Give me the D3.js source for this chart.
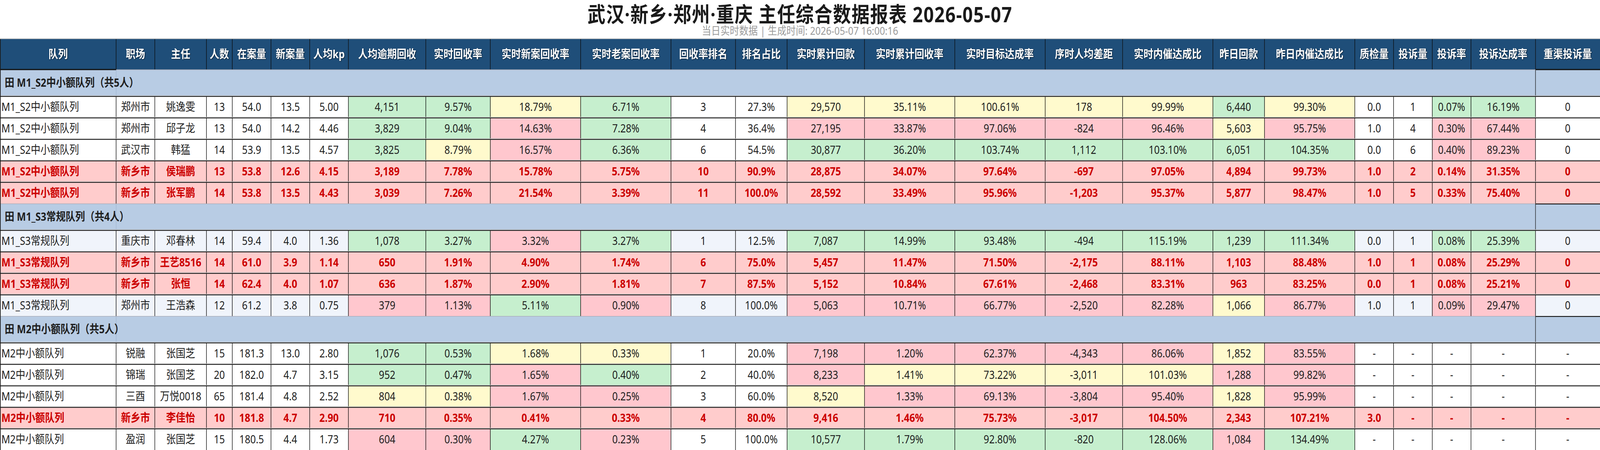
<!DOCTYPE html>
<html>
<head>
<meta charset="utf-8">
<script src="https://cdn.jsdelivr.net/npm/d3@7"></script>
<style>
  html, body { margin: 0; padding: 0; background: #fff; overflow: hidden; }
  svg { display: block; width: 100vw; height: 100vh; font-family: "Noto Sans", "Noto Sans CJK SC", sans-serif; }
</style>
</head>
<body>
<svg id="report"></svg>
<script>
const title = "武汉·新乡·郑州·重庆 主任综合数据报表 2026-05-07";
const subtitle = "当日实时数据 | 生成时间: 2026-05-07 16:00:16";

const columns = ["队列", "职场", "主任", "人数", "在案量", "新案量", "人均kp", "人均逾期回收",
    "实时回收率", "实时新案回收率", "实时老案回收率", "回收率排名", "排名占比", "实时累计回款",
    "实时累计回收率", "实时目标达成率", "序时人均差距", "实时内催达成比", "昨日回款",
    "昨日内催达成比", "质检量", "投诉量", "投诉率", "投诉达成率", "重渠投诉量"];

const groupNames = ["M1_S2中小额队列", "M1_S3常规队列", "M2中小额队列"];
const groupSizes = [5, 4, 5];

const sites = ["郑州市", "郑州市", "武汉市", "新乡市", "新乡市", "重庆市", "新乡市", "新乡市", "郑州市",
    "锐融", "锦瑞", "三酉", "新乡市", "盈润"];
const managers = ["姚逸雯", "邱子龙", "韩猛", "侯瑞鹏", "张军鹏", "邓春林", "王艺8516", "张恒", "王浩森",
    "张国芝", "张国芝", "万悦0018", "李佳怡", "张国芝"];
const headcount = [13, 13, 14, 13, 14, 14, 14, 14, 12, 15, 20, 65, 10, 15];
const activeCases = [54.0, 54.0, 53.9, 53.8, 53.8, 59.4, 61.0, 62.4, 61.2, 181.3, 182.0, 181.4, 181.8, 180.5];
const newCases = [13.5, 14.2, 13.5, 12.6, 13.5, 4.0, 3.9, 4.0, 3.8, 13.0, 4.7, 4.8, 4.7, 4.4];
const kpPerHead = [5.00, 4.46, 4.57, 4.15, 4.43, 1.36, 1.14, 1.07, 0.75, 2.80, 3.15, 2.52, 2.90, 1.73];
const overduePerHead = [4151, 3829, 3825, 3189, 3039, 1078, 650, 636, 379, 1076, 952, 804, 710, 604];
const recoveryRate = [9.57, 9.04, 8.79, 7.78, 7.26, 3.27, 1.91, 1.87, 1.13, 0.53, 0.47, 0.38, 0.35, 0.30];
const newCaseRate = [18.79, 14.63, 16.57, 15.78, 21.54, 3.32, 4.90, 2.90, 5.11, 1.68, 1.65, 1.67, 0.41, 4.27];
const oldCaseRate = [6.71, 7.28, 6.36, 5.75, 3.39, 3.27, 1.74, 1.81, 0.90, 0.33, 0.40, 0.25, 0.33, 0.23];
const rateRank = [3, 4, 6, 10, 11, 1, 6, 7, 8, 1, 2, 3, 4, 5];
const rankShare = [27.3, 36.4, 54.5, 90.9, 100.0, 12.5, 75.0, 87.5, 100.0, 20.0, 40.0, 60.0, 80.0, 100.0];
const cumPayback = [29570, 27195, 30877, 28875, 28592, 7087, 5457, 5152, 5063, 7198, 8233, 8520, 9416, 10577];
const cumRate = [35.11, 33.87, 36.20, 34.07, 33.49, 14.99, 11.47, 10.84, 10.71, 1.20, 1.41, 1.33, 1.46, 1.79];
const targetRate = [100.61, 97.06, 103.74, 97.64, 95.96, 93.48, 71.50, 67.61, 66.77, 62.37, 73.22, 69.13, 75.73, 92.80];
const paceGap = [178, -824, 1112, -697, -1203, -494, -2175, -2468, -2520, -4343, -3011, -3804, -3017, -820];
const internalRatio = [99.99, 96.46, 103.10, 97.05, 95.37, 115.19, 88.11, 83.31, 82.28, 86.06, 101.03, 95.40, 104.50, 128.06];
const ydPayback = [6440, 5603, 6051, 4894, 5877, 1239, 1103, 963, 1066, 1852, 1288, 1828, 2343, 1084];
const ydInternalRatio = [99.30, 95.75, 104.35, 99.73, 98.47, 111.34, 88.48, 83.25, 86.77, 83.55, 99.82, 95.99, 107.21, 134.49];
const qcCount = [0.0, 1.0, 0.0, 1.0, 1.0, 0.0, 1.0, 0.0, 1.0, null, null, null, 3.0, null];
const complaints = [1, 4, 6, 2, 5, 1, 1, 1, 1, null, null, null, null, null];
const complaintRate = [0.07, 0.30, 0.40, 0.14, 0.33, 0.08, 0.08, 0.08, 0.09, null, null, null, null, null];
const complaintTarget = [16.19, 67.44, 89.23, 31.35, 75.40, 25.39, 25.29, 25.21, 29.47, null, null, null, null, null];
const reChannelComplaints = [0, 0, 0, 0, 0, 0, 0, 0, 0, null, null, null, null, null];

// g = 达标, y = 接近, r = 未达标, . = 无标记 (one char per column)
const cellLevels = [
    ".......ggyg..yyyyygy..gg.",
    ".......ggrg..rrrrryr..rr.",
    ".......gyrg..ggggggg..rr.",
    ".........................",
    ".........................",
    ".......ggrg..ggggggg..gg.",
    ".........................",
    ".........................",
    ".......rrgr..rrrrryr..rr.",
    ".......ggyy..rrrrryr.....",
    ".......ggrg..ryyyyrr.....",
    ".......yyrr..yrrrryr.....",
    ".........................",
    ".......rrgr..gggggrg....."
];
const highlightSite = "新乡市";
const shadedRows = [5, 8];

// ---- layout ----
const W = 4800, H = 1152;
const colUnits = [9, 3, 4, 2, 3, 3, 3, 6, 5, 7, 7, 5, 4, 6, 7, 7, 6, 7, 4, 7, 3, 3, 3, 5, 5];
const tableTop = 100, headerH = 78, groupH = 68, rowH = 55;
const cellFont = "29px";

const loc = d3.formatLocale({ decimal: ".", thousands: ",", grouping: [3], currency: ["", ""], minus: "-" });
const fInt = loc.format("d"), fComma = loc.format(",d"), f1 = loc.format(".1f"), f2 = loc.format(".2f");
const pct2 = v => f2(v) + "%", pct1 = v => f1(v) + "%";

const rowGroup = groupSizes.flatMap((n, g) => d3.range(n).map(() => g));
const queueCol = rowGroup.map(g => groupNames[g]);

const columnData = [
    [queueCol, String], [sites, String], [managers, String], [headcount, fInt],
    [activeCases, f1], [newCases, f1], [kpPerHead, f2], [overduePerHead, fComma],
    [recoveryRate, pct2], [newCaseRate, pct2], [oldCaseRate, pct2], [rateRank, fInt],
    [rankShare, pct1], [cumPayback, fComma], [cumRate, pct2], [targetRate, pct2],
    [paceGap, fComma], [internalRatio, pct2], [ydPayback, fComma], [ydInternalRatio, pct2],
    [qcCount, f1], [complaints, fInt], [complaintRate, pct2], [complaintTarget, pct2],
    [reChannelComplaints, fInt]
];

const edges = [0, ...d3.cumsum(colUnits)];
const x = d3.scaleLinear().domain([0, d3.sum(colUnits)]).range([0, W]);
const colX0 = i => x(edges[i]);
const colX1 = i => x(edges[i + 1]);

// row layout: group bands and data rows stacked under the header
const bands = [];
let yCursor = tableTop + headerH, r = 0;
groupSizes.forEach((n, g) => {
    bands.push({ type: "group", g, y0: yCursor, y1: yCursor + groupH });
    yCursor += groupH;
    for (let k = 0; k < n; k++, r++) {
        bands.push({ type: "data", i: r, y0: yCursor, y1: yCursor + rowH });
        yCursor += rowH;
    }
});

const levelFill = { g: "#C6EFCE", y: "#FFFACD", r: "#FFC7CE" };
const headerFill = "#1F4E79";
const groupFill = "#B8CCE4";
const hlFill = "#FFCCCC";
const hlText = "#CC0000";
const shadeFill = "#F0F4FB";

const svg = d3.select("#report")
    .attr("viewBox", `0 0 ${W} ${H}`)
    .attr("preserveAspectRatio", "none");
svg.append("rect").attr("width", W).attr("height", H).attr("fill", "#fff");

svg.append("text")
    .attr("x", W / 2).attr("y", 57)
    .attr("text-anchor", "middle")
    .style("font-size", "54px").style("font-weight", "bold").style("fill", "#1a1a1a")
    .style("letter-spacing", "1.8px")
    .text(title);

svg.append("text")
    .attr("x", W / 2).attr("y", 79).attr("dy", "0.35em")
    .attr("text-anchor", "middle")
    .style("font-size", "28px").style("fill", "#9a9a9a")
    .text(subtitle);

svg.append("line")
    .attr("x1", 0).attr("x2", W).attr("y1", tableTop - 1).attr("y2", tableTop - 1)
    .style("stroke", "#c8c8c8").style("stroke-width", 2);

// header
const header = svg.append("g");
header.selectAll("rect").data(columns).enter().append("rect")
    .attr("x", (d, i) => colX0(i)).attr("y", tableTop)
    .attr("width", (d, i) => colX1(i) - colX0(i)).attr("height", headerH)
    .attr("fill", headerFill);
header.selectAll("text").data(columns).enter().append("text")
    .attr("x", (d, i) => (colX0(i) + colX1(i)) / 2)
    .attr("y", tableTop + headerH / 2).attr("dy", "0.35em")
    .attr("text-anchor", "middle")
    .style("font-size", "29px").style("font-weight", "bold").style("fill", "#fff")
    .style("filter", "drop-shadow(1px 1px 1px rgba(0,0,0,0.7))")
    .text(d => d);
header.selectAll("line").data(d3.range(1, columns.length)).enter().append("line")
    .attr("x1", i => colX0(i)).attr("x2", i => colX0(i))
    .attr("y1", tableTop).attr("y2", tableTop + headerH)
    .style("stroke", "#0a0a0a").style("stroke-width", 1.5);

// group rows
const groupBands = bands.filter(b => b.type === "group");
const gRows = svg.selectAll(".grp").data(groupBands).enter().append("g").attr("class", "grp");
gRows.append("rect")
    .attr("x", 0).attr("y", b => b.y0).attr("width", W).attr("height", groupH)
    .attr("fill", groupFill);
gRows.append("line")
    .attr("x1", colX1(0)).attr("x2", colX1(0)).attr("y1", b => b.y0).attr("y2", b => b.y1)
    .style("stroke", "#9db1ca").style("stroke-width", 1);
gRows.append("line")
    .attr("x1", colX0(24)).attr("x2", colX0(24)).attr("y1", b => b.y0).attr("y2", b => b.y1)
    .style("stroke", "#1a1a1a").style("stroke-width", 1.5);
gRows.append("line")
    .attr("x1", 0).attr("x2", W).attr("y1", b => b.y0 + 0.5).attr("y2", b => b.y0 + 0.5)
    .style("stroke", "#a9a9b5").style("stroke-width", 1.5);
gRows.append("text")
    .attr("x", 14).attr("y", b => (b.y0 + b.y1) / 2).attr("dy", "0.35em")
    .style("font-size", cellFont).style("font-weight", "bold").style("fill", "#1e1e1e")
    .text(b => `田 ${groupNames[b.g]}（共${groupSizes[b.g]}人）`);

// sticky first / last column borders
[0, 24].forEach(c => {
    svg.append("line")
        .attr("x1", colX0(c)).attr("x2", colX1(c)).attr("y1", tableTop + headerH).attr("y2", tableTop + headerH)
        .style("stroke", "#111").style("stroke-width", 3);
});
groupBands.slice(1).forEach(b => {
    svg.append("line")
        .attr("x1", colX0(24)).attr("x2", W).attr("y1", b.y0 + 1).attr("y2", b.y0 + 1)
        .style("stroke", "#111").style("stroke-width", 2.5);
});

// data rows
const dataBands = bands.filter(b => b.type === "data");
const cells = dataBands.flatMap(b => columns.map((c, j) => {
    const i = b.i;
    const [vals, fmt] = columnData[j];
    const v = vals[i];
    const hl = sites[i] === highlightSite;
    const lvl = cellLevels[i][j];
    let fill = shadedRows.includes(i) ? shadeFill : "#fff";
    if (lvl !== ".") fill = levelFill[lvl];
    if (hl) fill = hlFill;
    return {
        j, y0: b.y0, y1: b.y1, hl, fill,
        text: v === null || v === undefined ? "-" : fmt(v)
    };
}));

const cellG = svg.selectAll(".cell").data(cells).enter().append("g").attr("class", "cell");
cellG.append("rect")
    .attr("x", d => colX0(d.j)).attr("y", d => d.y0)
    .attr("width", d => colX1(d.j) - colX0(d.j)).attr("height", d => d.y1 - d.y0)
    .attr("fill", d => d.fill);
cellG.append("text")
    .attr("x", d => d.j === 0 ? colX0(0) + 4 : (colX0(d.j) + colX1(d.j)) / 2)
    .attr("y", d => (d.y0 + d.y1) / 2).attr("dy", "0.35em")
    .attr("text-anchor", d => d.j === 0 ? "start" : "middle")
    .style("font-size", cellFont)
    .style("font-weight", d => d.hl ? "bold" : "normal")
    .style("fill", d => d.hl ? hlText : "#1e1e1e")
    .text(d => d.text);

// grid lines for data rows
const vLines = dataBands.flatMap(b => d3.range(1, columns.length).map(c => ({ c, b })));
svg.selectAll(".vl").data(vLines).enter().append("line").attr("class", "vl")
    .attr("x1", d => colX0(d.c)).attr("x2", d => colX0(d.c))
    .attr("y1", d => d.b.y0).attr("y2", d => d.b.y1)
    .style("stroke", "#000").style("stroke-width", 1.5);

svg.selectAll(".hl").data(dataBands).enter().append("line").attr("class", "hl")
    .attr("x1", 0).attr("x2", W).attr("y1", b => b.y0 + 1).attr("y2", b => b.y0 + 1)
    .style("stroke", "#1a1a1a").style("stroke-width", 2);
svg.selectAll(".hl2").data(dataBands).enter().append("line").attr("class", "hl2")
    .attr("x1", 0).attr("x2", W).attr("y1", b => b.y0 - 1).attr("y2", b => b.y0 - 1)
    .style("stroke", "#b8b8b8").style("stroke-width", 1.5);

// outer left edge
svg.append("line")
    .attr("x1", 1).attr("x2", 1).attr("y1", tableTop).attr("y2", H)
    .style("stroke", "#1a1a1a").style("stroke-width", 2);
</script>
</body>
</html>
